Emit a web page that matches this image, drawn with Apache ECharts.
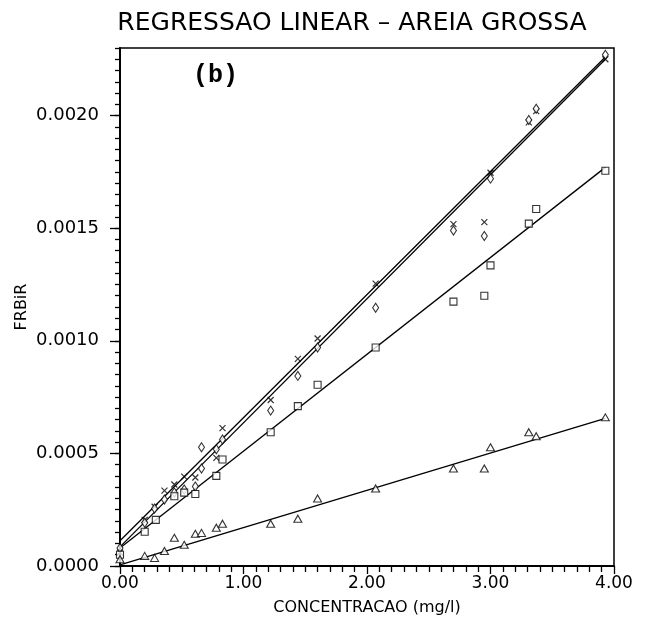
<!DOCTYPE html>
<html>
<head>
<meta charset="utf-8">
<script src="https://cdn.jsdelivr.net/npm/echarts@6/dist/echarts.min.js"></script>
<style>
  html, body { margin: 0; padding: 0; background: #fff; }
</style>
</head>
<body>
<!-- chart container, same size as the window -->
<div id="chart" style="width:647px;height:621px;"></div>
<script>
// data points [concentration, FRBiR]
var crossPts = [
  [0.00, 0.00006], [0.20, 0.000205], [0.28, 0.000263], [0.36, 0.000335],
  [0.44, 0.000362], [0.52, 0.000397], [0.61, 0.000393], [0.78, 0.00048],
  [0.83, 0.000612], [1.22, 0.000737], [1.44, 0.00092], [1.60, 0.00101],
  [2.07, 0.001254], [2.70, 0.001518], [2.95, 0.001527], [3.00, 0.001746],
  [3.31, 0.00197], [3.37, 0.00202], [3.93, 0.00225]
];
var diamondPts = [
  [0.00, 0.00008], [0.20, 0.000192], [0.28, 0.000255], [0.36, 0.000295],
  [0.44, 0.000326], [0.52, 0.00034], [0.61, 0.000353], [0.66, 0.000527],
  [0.66, 0.000433], [0.78, 0.000518], [0.83, 0.000562], [1.22, 0.00069],
  [1.44, 0.000844], [1.60, 0.00097], [2.07, 0.001147], [2.70, 0.00149],
  [2.95, 0.001465], [3.00, 0.00172], [3.31, 0.00198], [3.37, 0.00203],
  [3.93, 0.00227]
];
var squarePts = [
  [0.00, 0.00005], [0.20, 0.000152], [0.29, 0.000205], [0.44, 0.00031],
  [0.52, 0.000326], [0.61, 0.00032], [0.78, 0.0004], [0.83, 0.000473],
  [1.22, 0.000594], [1.44, 0.00071], [1.60, 0.000805], [2.07, 0.00097],
  [2.70, 0.001174], [2.95, 0.0012], [3.00, 0.001335], [3.31, 0.00152],
  [3.37, 0.001585], [3.93, 0.001755]
];
var trianglePts = [
  [0.00, 0.00003], [0.20, 0.000045], [0.28, 0.000036], [0.36, 0.000067],
  [0.44, 0.000125], [0.52, 0.000094], [0.61, 0.000143], [0.66, 0.000147],
  [0.78, 0.00017], [0.83, 0.000188], [1.22, 0.000188], [1.44, 0.00021],
  [1.60, 0.0003], [2.07, 0.000344], [2.70, 0.000433], [2.95, 0.000433],
  [3.00, 0.000527], [3.31, 0.000594], [3.37, 0.000576], [3.93, 0.00066]
];

// regression lines, end values
var fitX = [0, 3.93];
var fitCross = [0.000112, 0.00226];
var fitDiamond = [0.000085, 0.00225];
var fitSquare = [0.00008, 0.00177];
var fitTriangle = [0.000005, 0.000655];

var xTicks = [0, 1, 2, 3, 4];
var yTicks = [0, 0.0005, 0.0010, 0.0015, 0.0020];

function pairs(xs, ys) {
  return xs.map(function (x, i) { return [x, ys[i]]; });
}

var myChart = echarts.init(document.getElementById("chart"));

var markerStyle = { color: "#fff", borderColor: "#000", borderWidth: 1.1 };
var fitStyle = { color: "#000", width: 1.3 };

function fitLine(ys) {
  return {
    type: "line",
    data: pairs(fitX, ys),
    showSymbol: false,
    symbol: "none",
    silent: true,
    lineStyle: fitStyle,
    z: 2
  };
}

var option = {
  animation: false,
  backgroundColor: "#fff",
  textStyle: { fontFamily: "DejaVu Sans", color: "#000" },
  graphic: [
    {
      type: "text",
      x: 352,
      y: 11,
      style: {
        text: "REGRESSAO LINEAR – AREIA GROSSA",
        font: "25px 'DejaVu Sans'",
        fill: "#000",
        align: "center",
        verticalAlign: "top"
      }
    },
    {
      type: "text",
      x: 193,
      y: 63,
      style: {
        text: "(b)",
        font: "bold 25px 'Liberation Mono'",
        fill: "#000",
        verticalAlign: "top"
      }
    }
  ],
  grid: {
    left: 120,
    right: 33,
    top: 48,
    bottom: 55,
    show: true,
    borderColor: "#000",
    borderWidth: 1.5,
    backgroundColor: "transparent"
  },
  xAxis: {
    type: "value",
    min: 0,
    max: 4,
    interval: 1,
    name: "CONCENTRACAO (mg/l)",
    nameLocation: "middle",
    nameGap: 34,
    nameTextStyle: { fontSize: 16, color: "#000" },
    axisLine: { lineStyle: { color: "#000", width: 2 } },
    axisTick: { length: 8, lineStyle: { color: "#000", width: 1.3 } },
    minorTick: { show: true, splitNumber: 10, length: 6, lineStyle: { color: "#000", width: 1.3 } },
    axisLabel: {
      fontSize: 17,
      color: "#000",
      margin: 9,
      formatter: function (v) { return v.toFixed(2); }
    },
    splitLine: { show: false }
  },
  yAxis: [
    {
      type: "value",
      min: 0,
      max: 0.0023,
      interval: 0.00005,
      name: "FRBiR",
      nameLocation: "middle",
      nameGap: 90,
      nameMoveOverlap: false,
      nameTextStyle: { fontSize: 16, color: "#000" },
      axisLine: { lineStyle: { color: "#000", width: 2 } },
      axisTick: { length: 5, lineStyle: { color: "#000", width: 1.3 } },
      axisLabel: {
        customValues: yTicks,
        fontSize: 18,
        color: "#000",
        margin: 21,
        formatter: function (v) { return v.toFixed(4); }
      },
      splitLine: { show: false }
    },
    {
      type: "value",
      min: 0,
      max: 0.0023,
      position: "left",
      axisLine: { show: false },
      axisTick: { customValues: yTicks, length: 10, lineStyle: { color: "#000", width: 1.3 } },
      axisLabel: { show: false },
      splitLine: { show: false }
    }
  ],
  series: [
    fitLine(fitCross),
    fitLine(fitDiamond),
    fitLine(fitSquare),
    fitLine(fitTriangle),
    {
      name: "x",
      type: "scatter",
      data: crossPts,
      symbol: "path://M0,0L10,10M10,0L0,10",
      symbolSize: 6,
      itemStyle: { color: "#000", borderColor: "#000", borderWidth: 1.2 },
      z: 3
    },
    {
      name: "diamond",
      type: "scatter",
      data: diamondPts,
      symbol: "diamond",
      symbolSize: [6, 9],
      itemStyle: markerStyle,
      z: 3
    },
    {
      name: "square",
      type: "scatter",
      data: squarePts,
      symbol: "rect",
      symbolSize: 7,
      itemStyle: markerStyle,
      z: 3
    },
    {
      name: "triangle",
      type: "scatter",
      data: trianglePts,
      symbol: "triangle",
      symbolSize: [8, 7],
      itemStyle: markerStyle,
      z: 3
    }
  ]
};

myChart.setOption(option);
</script>
</body>
</html>
